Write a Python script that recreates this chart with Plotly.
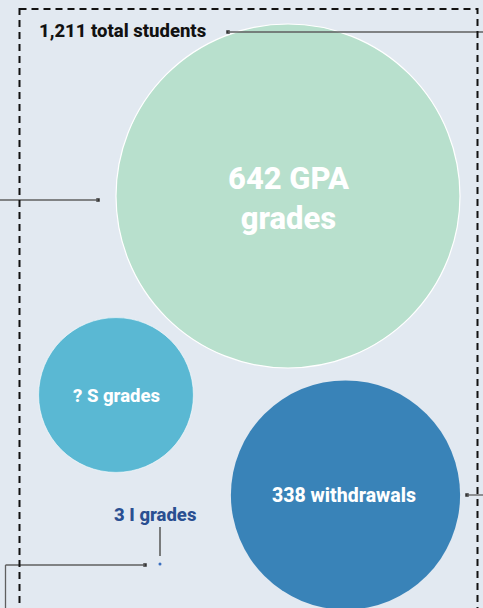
import plotly.graph_objects as go

# ---- data ----
categories = ["GPA grades", "S grades", "withdrawals", "I grades"]
count_labels = ["642", "?", "338", "3"]
total_students = 1211
# bubble areas (relative units)
bubble_area = [642, 130, 285, 0.05]

W, H = 483, 608
centers_x = [288, 116, 345.5, 160]
centers_y = [196, 395, 495, 564]
colors = ["#b8e0cd", "#5ab8d3", "#3983b8", "#3a6fbf"]
line_w = [1.2, 0.6, 0.0, 0]
bg = "#e2e9f1"
FONT = "Roboto"

sizeref = bubble_area[0] / (2 * 172 ** 2)

fig = go.Figure()
fig.add_trace(go.Scatter(
    x=centers_x, y=centers_y, mode="markers",
    marker=dict(size=bubble_area, sizemode="area", sizeref=sizeref,
                color=colors, opacity=1,
                line=dict(color="white", width=line_w)),
    cliponaxis=False, hoverinfo="skip", showlegend=False))

# leader lines
gray = "#5f5f5f"
def seg(x0, y0, x1, y1, w=1.3):
    fig.add_shape(type="line", x0=x0, y0=y0, x1=x1, y1=y1,
                  line=dict(color=gray, width=w), layer="above")

seg(228, 32, W + 2, 32)
seg(-2, 200, 98, 200)
seg(467, 495, W + 2, 495)
seg(145, 565, 5.5, 565)
seg(5.5, 565, 5.5, H + 2)
seg(160, 527, 160, 556, 1.6)
fig.add_trace(go.Scatter(x=[228, 98, 467, 145], y=[32, 200, 495, 565], mode="markers",
                         marker=dict(size=3.5, color="#333333", symbol="square"),
                         hoverinfo="skip", showlegend=False, cliponaxis=False))

# dashed frame
fig.add_shape(type="rect", x0=19.5, y0=9, x1=477.5, y1=H + 20,
              line=dict(color="#111111", width=2, dash="7px,5px"), layer="above")

# labels
def lab(x, y, text, size, color, anchor="center"):
    fig.add_annotation(x=x, y=y, text=text, showarrow=False, xanchor=anchor,
                       yanchor="middle",
                       font=dict(family=FONT, size=size, color=color, weight=800))

lab(37, 31, f"{total_students:,} total students", 18.5, "#111111", "left")
lab(288, 198, f"{count_labels[0]} GPA<br>grades", 31, "white")
lab(116, 396, f"{count_labels[1]} S grades", 18.5, "white")
lab(344, 495, f"{count_labels[2]} {categories[2]}", 19.5, "white")
lab(155, 515, f"{count_labels[3]} I grades", 18.5, "#2a4f91")

fig.update_layout(
    width=W, height=H, margin=dict(l=0, r=0, t=0, b=0),
    paper_bgcolor=bg, plot_bgcolor=bg,
    xaxis=dict(range=[0, W], visible=False, fixedrange=True),
    yaxis=dict(range=[H, 0], visible=False, fixedrange=True),
)
fig.write_html("out.html", config={"displayModeBar": False},
               post_script="document.body.style.margin='0px';document.body.style.overflow='hidden';document.body.style.background='%s';" % bg)
